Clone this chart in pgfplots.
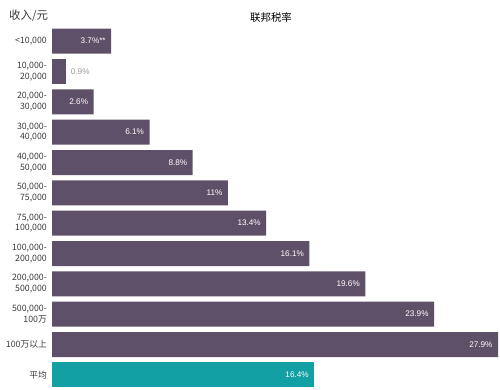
\documentclass[border=0pt]{standalone}
\usepackage{pgfplots}
\pgfplotsset{compat=1.18}
\usepackage{fontspec}
\setmainfont{Liberation Sans}
\newfontfamily\cjk{Noto Sans CJK SC}
\definecolor{barpurple}{HTML}{5F5069}
\definecolor{barteal}{HTML}{12A0A4}
\definecolor{lbl}{HTML}{3A3A3A}
\begin{document}
\begin{tikzpicture}
\path[use as bounding box] (0,0) rectangle (500bp,390bp);
\node[anchor=west, font=\cjk\fontsize{11.5}{13}\selectfont, text=lbl, inner sep=0pt] at (9bp,374bp) {收入/元};
\node[font=\cjk\fontsize{10.5}{12}\selectfont, text=black, inner sep=0pt] at (271bp,372bp) {联邦税率};
\begin{axis}[
  at={(52bp,0bp)}, anchor=south west, scale only axis,
  width=446bp, height=364bp,
  xmin=0, xmax=27.9, ymin=-0.5, ymax=11.5, y dir=reverse,
  axis line style={draw=none}, major tick length=0pt,
  xtick=\empty,
  ytick={0,...,11},
  yticklabels={{<10,000},{10,000-\\20,000},{20,000-\\30,000},{30,000-\\40,000},{40,000-\\50,000},{50,000-\\75,000},{75,000-\\100,000},{100,000-\\200,000},{200,000-\\500,000},{500,000-\\100万},{100万以上},{平均}},
  yticklabel style={align=right, font=\cjk\fontsize{8.8}{10.5}\selectfont, text=lbl, inner sep=2pt, xshift=-3bp},
  xbar, bar width=25bp, bar shift=0pt,
  point meta=explicit symbolic,
  nodes near coords={\pgfplotspointmeta},
  clip=false,
]
\addplot[fill=barpurple, draw=none,
  every node near coord/.append style={anchor=east, text=white, font=\fontsize{8.2}{9}\selectfont, xshift=-2bp}]
coordinates {
(3.7,0) [3.7\%**]
(2.6,2) [2.6\%]
(6.1,3) [6.1\%]
(8.8,4) [8.8\%]
(11,5) [11\%]
(13.4,6) [13.4\%]
(16.1,7) [16.1\%]
(19.6,8) [19.6\%]
(23.9,9) [23.9\%]
(27.9,10) [27.9\%]
};
\addplot[fill=barpurple, draw=none,
  every node near coord/.append style={anchor=west, text=gray!80, font=\fontsize{8.2}{9}\selectfont, xshift=1bp}]
coordinates {(0.9,1) [0.9\%]};
\addplot[fill=barteal, draw=none,
  every node near coord/.append style={anchor=east, text=white, font=\fontsize{8.2}{9}\selectfont, xshift=-2bp}]
coordinates {(16.4,11) [16.4\%]};
\end{axis}
\end{tikzpicture}
\end{document}
